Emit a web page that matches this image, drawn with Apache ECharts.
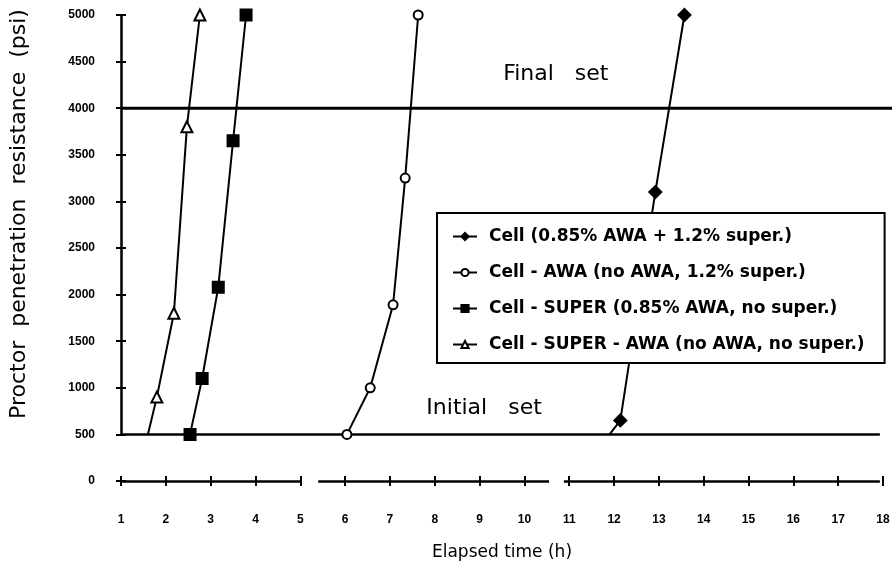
<!DOCTYPE html>
<html>
<head>
<meta charset="utf-8">
<script src="https://cdn.jsdelivr.net/npm/echarts@6/dist/echarts.min.js"></script>
<style>html,body{margin:0;padding:0;background:#fff}#c{width:892px;height:571px}</style>
</head>
<body>
<div id="c"></div>
<script>
// ---- data ----
const seriesNames = [
  'Cell (0.85% AWA + 1.2% super.)',
  'Cell - AWA (no AWA, 1.2% super.)',
  'Cell - SUPER (0.85% AWA, no super.)',
  'Cell - SUPER - AWA (no AWA, no super.)'
];
const cellX = [11.9, 12.14, 12.92, 13.57];
const cellY = [500, 650, 3100, 5000];
const awaX = [6.04, 6.56, 7.07, 7.34, 7.63];
const awaY = [500, 1000, 1890, 3250, 5000];
const superX = [2.54, 2.81, 3.17, 3.50, 3.79];
const superY = [500, 1100, 2080, 3650, 5000];
const superAwaX = [1.6, 1.8, 2.18, 2.47, 2.76];
const superAwaY = [500, 900, 1800, 3800, 5000];
const initialSet = 500;
const finalSet = 4000;
const xTicks = [1,2,3,4,5,6,7,8,9,10,11,12,13,14,15,16,17,18];
const yTicks = [0,500,1000,1500,2000,2500,3000,3500,4000,4500,5000];

const zip = (xs, ys) => xs.map((x, i) => [x, ys[i]]);
const font = '"Liberation Sans", Arial, sans-serif';
const dfont = '"DejaVu Sans", sans-serif';

const chart = echarts.init(document.getElementById('c'), null, {renderer: 'canvas'});

function mkSeries(name, xs, ys, symbol, filled, size, hideFirst) {
  return {
    name, type: 'line', data: zip(xs, ys).map((p, i) => (hideFirst && i === 0) ? {value: p, symbolSize: 0} : p),
    symbol, symbolSize: size, showAllSymbol: true,
    lineStyle: {color: '#000', width: 2},
    itemStyle: {color: filled ? '#000' : '#fff', borderColor: '#000', borderWidth: 2},
    z: 5
  };
}

const tickStyle = {color: '#000', width: 2};
const option = {
  animation: false,
  backgroundColor: '#fff',
  grid: {left: 121, right: 9, top: 15, bottom: 90, containLabel: false, outerBoundsMode: 'none'},
  xAxis: [{
    type: 'value', min: 1, max: 18, interval: 1, position: 'bottom',
    axisLine: {show: false},
    axisTick: {show: true, length: 5, lineStyle: tickStyle, inside: false},
    axisLabel: {color: '#000', fontFamily: font, fontWeight: 'bold', fontSize: 12, margin: 33,
      formatter: v => xTicks.includes(v) ? String(v) : ''},
    splitLine: {show: false},
    name: 'Elapsed time (h)', nameLocation: 'middle', nameGap: 63,
    nameTextStyle: {color: '#000', fontFamily: dfont, fontSize: 17}
  }, {
    type: 'value', min: 1, max: 18, interval: 1, position: 'bottom', offset: 0,
    axisLine: {show: false},
    axisTick: {show: true, length: 5, lineStyle: tickStyle, inside: true},
    axisLabel: {show: false}, splitLine: {show: false}
  }],
  yAxis: [{
    type: 'value', min: 0, max: 5000, interval: 500, position: 'left',
    axisLine: {show: false},
    axisTick: {show: true, length: 5, lineStyle: tickStyle},
    axisLabel: {color: '#000', fontFamily: font, fontWeight: 'bold', fontSize: 12, margin: 26,
      formatter: v => yTicks.includes(v) ? String(v) : ''},
    splitLine: {show: false}
  }, {
    type: 'value', min: 0, max: 5000, interval: 500, position: 'left', offset: 0,
    axisLine: {show: false},
    axisTick: {show: true, length: 5, lineStyle: tickStyle, inside: true},
    axisLabel: {show: false}, splitLine: {show: false}
  }],
  legend: {
    orient: 'vertical', left: 437, top: 213,
    backgroundColor: '#fff', borderColor: '#000', borderWidth: 2,
    padding: [15, 20, 10, 15], itemGap: 19, itemWidth: 24, itemHeight: 9,
    textStyle: {color: '#000', fontFamily: dfont, fontWeight: 'bold', fontSize: 17, padding: [0, 0, 0, 7]},
    data: seriesNames, z: 10
  },
  series: [
    mkSeries(seriesNames[0], cellX, cellY, 'diamond', true, 12, true),
    mkSeries(seriesNames[1], awaX, awaY, 'circle', false, 9, false),
    mkSeries(seriesNames[2], superX, superY, 'rect', true, 11, false),
    mkSeries(seriesNames[3], superAwaX, superAwaY, 'triangle', false, 11, true),
    {
      type: 'line', data: [], silent: true,
      markLine: {
        silent: true, symbol: 'none', label: {show: false},
        lineStyle: {color: '#000', width: 2.5, type: 'solid'},
        data: [
          [{coord: [1, initialSet]}, {coord: [17.93, initialSet]}],
          [{coord: [1, initialSet]}, {coord: [1, 5000]}],
          [{coord: [1, 0]}, {coord: [5.0, 0]}],
          [{coord: [5.4, 0]}, {coord: [10.55, 0]}],
          [{coord: [10.88, 0]}, {coord: [17.93, 0]}]
        ]
      }
    }
  ]
};
chart.setOption(option);

// Annotations and the full-width final-set line anchored to data coordinates
const pFinal = chart.convertToPixel({gridIndex: 0}, [10.7, 4360]);
const pInit = chart.convertToPixel({gridIndex: 0}, [9.1, 784]);
const pF0 = chart.convertToPixel({gridIndex: 0}, [1, finalSet]);
chart.setOption({
  graphic: [
    {type: 'line', shape: {x1: pF0[0], y1: pF0[1], x2: 892, y2: pF0[1]},
     style: {stroke: '#000', lineWidth: 3}, z: 3},
    {type: 'text', x: pFinal[0], y: pFinal[1],
     style: {text: 'Final   set', font: '22px ' + dfont, fill: '#000', align: 'center', verticalAlign: 'middle'}},
    {type: 'text', x: pInit[0], y: pInit[1],
     style: {text: 'Initial   set', font: '22px ' + dfont, fill: '#000', align: 'center', verticalAlign: 'middle'}},
    {type: 'text', x: 19, y: 214, rotation: Math.PI / 2,
     style: {text: 'Proctor  penetration  resistance  (psi)', font: '22px ' + dfont, fill: '#000',
       align: 'center', verticalAlign: 'middle'}}
  ]
});
</script>
</body>
</html>
